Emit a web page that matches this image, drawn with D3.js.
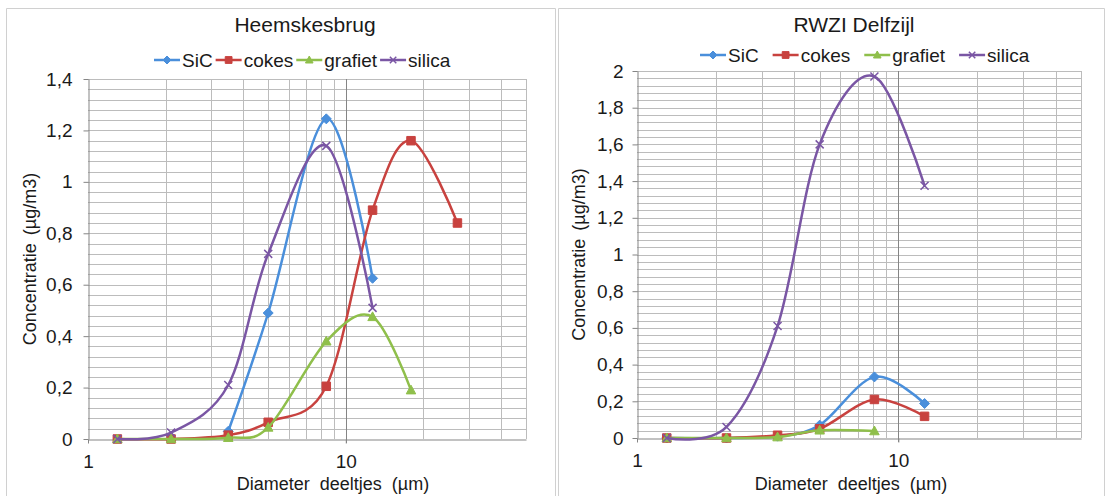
<!DOCTYPE html>
<html>
<head>
<meta charset="utf-8">
<script src="https://cdn.jsdelivr.net/npm/d3@7"></script>
<style>
  body { margin: 0; background: #fff; }
  svg text { font-family: "Liberation Sans", Arial, sans-serif; fill: #1a1a1a; }
</style>
</head>
<body>
<svg id="chart" width="1107" height="496"></svg>
<script>
// series + sites
const sites = ["Heemskesbrug", "RWZI Delfzijl"];
const seriesNames = ["SiC", "cokes", "grafiet", "silica"];
const seriesColors = ["#4a8fdb", "#c8423f", "#8fbf4b", "#7a56a4"];

// Heemskesbrug: diameter (µm) and concentratie (µg/m3), null = no measurement
const heemDiam = [1.3, 2.1, 3.5, 5.0, 8.4, 12.7, 17.9, 27.1];
const heemSiC = [null, null, 0.03, 0.49, 1.245, 0.625];
const heemCokes = [0, 0, 0.015, 0.065, 0.205, 0.89, 1.16, 0.84];
const heemGrafiet = [0, 0, 0.005, 0.045, 0.38, 0.475, 0.19];
const heemSilica = [0, 0.025, 0.21, 0.72, 1.14, 0.51];

// RWZI Delfzijl
const delfDiam = [1.3, 2.2, 3.45, 5.0, 8.1, 12.6];
const delfSiC = [0, 0, 0.01, 0.07, 0.333, 0.188];
const delfCokes = [0, 0, 0.015, 0.05, 0.21, 0.118];
const delfGrafiet = [0, 0, 0.005, 0.042, 0.038];
const delfSilica = [0, 0.06, 0.61, 1.6, 1.97, 1.375];

// axes
const heemYTicks = [0, 0.2, 0.4, 0.6, 0.8, 1, 1.2, 1.4];
const delfYTicks = [0, 0.2, 0.4, 0.6, 0.8, 1, 1.2, 1.4, 1.6, 1.8, 2];
const xTicks = [1, 10];
const xGrid = [2, 3, 4, 5, 6, 7, 8, 9, 10, 20, 30, 40, 50];
const xDomain = [1, 50];

const panels = [
    {title: sites[0], diam: heemDiam, values: [heemSiC, heemCokes, heemGrafiet, heemSilica], yTicks: heemYTicks,
     frame: [6, 8, 555], plot: {x0: 88, x1: 526, y0: 79, y1: 439},
     titleX: 305, legendX: 154, legendY: 60, legendGap: 3, xTitleX: 333, tickPad: 11},
    {title: sites[1], diam: delfDiam, values: [delfSiC, delfCokes, delfGrafiet, delfSilica], yTicks: delfYTicks,
     frame: [558, 8, 1104], plot: {x0: 637, x1: 1081, y0: 71, y1: 438},
     titleX: 854, legendX: 700, legendY: 55, legendGap: 14, xTitleX: 851, tickPad: 9}
];

const svg = d3.select("#chart");

function markerPath(i, r) {
    if (i === 0) return `M0,${-r}L${r},0L0,${r}L${-r},0Z`;
    if (i === 1) { const s = r * 0.85; return `M${-s},${-s}H${s}V${s}H${-s}Z`; }
    if (i === 2) return `M0,${-r}L${r * 0.95},${r * 0.75}L${-r * 0.95},${r * 0.75}Z`;
    const s = r * 0.8;
    return `M${-s},${-s}L${s},${s}M${s},${-s}L${-s},${s}`;
}

function drawMarker(sel, i, r) {
    sel.append("path")
        .attr("d", markerPath(i, r))
        .attr("fill", i === 3 ? "none" : seriesColors[i])
        .attr("stroke", seriesColors[i])
        .attr("stroke-width", i === 3 ? 1.5 : 1);
}

const fmt = d => d3.format(".1~f")(d).replace(".", ",");

function drawPanel(p) {
    const g = svg.append("g");
    const x = d3.scaleLog().domain(xDomain).range([p.plot.x0, p.plot.x1]);
    const yMax = p.yTicks[p.yTicks.length - 1];
    const y = d3.scaleLinear().domain([0, yMax]).range([p.plot.y1, p.plot.y0]);

    // chart frame
    g.append("path")
        .attr("d", `M${p.frame[0] + 0.5},520V${p.frame[1] + 0.5}H${p.frame[2] + 0.5}V520`)
        .attr("fill", "none").attr("stroke", "#d0d0d0");

    // horizontal gridlines every 0.04
    const n = Math.round(yMax / 0.04);
    g.append("g").selectAll("line")
        .data(d3.range(1, n + 1).map(i => i * 0.04))
        .join("line")
        .attr("x1", p.plot.x0).attr("x2", p.plot.x1)
        .attr("y1", d => Math.round(y(d)) + 0.5).attr("y2", d => Math.round(y(d)) + 0.5)
        .attr("stroke", "#bcbcbc");

    // vertical gridlines (log)
    g.append("g").selectAll("line")
        .data(xGrid)
        .join("line")
        .attr("x1", d => Math.round(x(d)) + 0.5).attr("x2", d => Math.round(x(d)) + 0.5)
        .attr("y1", p.plot.y0).attr("y2", d => d === 10 ? p.plot.y1 + 4 : p.plot.y1)
        .attr("stroke", d => d === 10 ? "#858585" : "#bcbcbc");

    // y axis
    const yAxis = g.append("g")
        .attr("transform", `translate(${p.plot.x0 + 0.5},0)`)
        .call(d3.axisLeft(y).tickValues(p.yTicks).tickSize(5).tickSizeOuter(0)
            .tickPadding(p.tickPad).tickFormat(fmt));
    yAxis.select(".domain").attr("stroke", "#858585");
    yAxis.selectAll(".tick line").attr("stroke", "#858585");
    yAxis.selectAll("text").style("font-size", "19px").attr("fill", "#1a1a1a");

    // x axis
    const xAxis = g.append("g")
        .attr("transform", `translate(0,${p.plot.y1 + 0.5})`)
        .call(d3.axisBottom(x).tickValues(xTicks).tickSize(4).tickSizeOuter(0)
            .tickPadding(11).tickFormat(d3.format("d")));
    xAxis.select(".domain").attr("stroke", "#858585");
    xAxis.selectAll(".tick line").attr("stroke", "#858585");
    xAxis.selectAll("text").style("font-size", "19px").attr("fill", "#1a1a1a");

    // series
    const line = d3.line()
        .defined(d => d != null)
        .x((d, i) => x(p.diam[i]))
        .y(d => y(d))
        .curve(d3.curveCatmullRom.alpha(0));

    p.values.forEach((vals, si) => {
        const s = g.append("g");
        s.append("path")
            .attr("d", line(vals))
            .attr("fill", "none")
            .attr("stroke", seriesColors[si])
            .attr("stroke-width", 2.5);
        vals.forEach((v, i) => {
            if (v == null) return;
            const m = s.append("g").attr("transform", `translate(${x(p.diam[i])},${y(v)})`);
            drawMarker(m, si, 5);
        });
    });

    // title
    g.append("text")
        .attr("x", p.titleX).attr("y", 32)
        .attr("text-anchor", "middle")
        .style("font-size", "21px")
        .attr("fill", "#000")
        .text(p.title);

    // legend
    let cx = p.legendX;
    seriesNames.forEach((name, si) => {
        const lg = g.append("g");
        lg.append("line")
            .attr("x1", cx).attr("x2", cx + 26)
            .attr("y1", p.legendY).attr("y2", p.legendY)
            .attr("stroke", seriesColors[si]).attr("stroke-width", 2.5);
        const m = lg.append("g").attr("transform", `translate(${cx + 13},${p.legendY})`);
        drawMarker(m, si, 4);
        const t = lg.append("text")
            .attr("x", cx + 28).attr("y", p.legendY + 7)
            .style("font-size", "19px")
            .text(name);
        cx += 28 + t.node().getComputedTextLength() + p.legendGap;
    });

    // axis titles
    g.append("text")
        .attr("transform", `translate(${p.plot.x0 - 52},${(p.plot.y0 + p.plot.y1) / 2}) rotate(-90)`)
        .attr("text-anchor", "middle")
        .style("font-size", "18px")
        .style("word-spacing", "3px")
        .text("Concentratie (µg/m3)");

    g.append("text")
        .attr("x", p.xTitleX).attr("y", 490)
        .attr("text-anchor", "middle")
        .style("font-size", "18px")
        .style("word-spacing", "5px")
        .text("Diameter deeltjes (µm)");
}

panels.forEach(drawPanel);
</script>
</body>
</html>
